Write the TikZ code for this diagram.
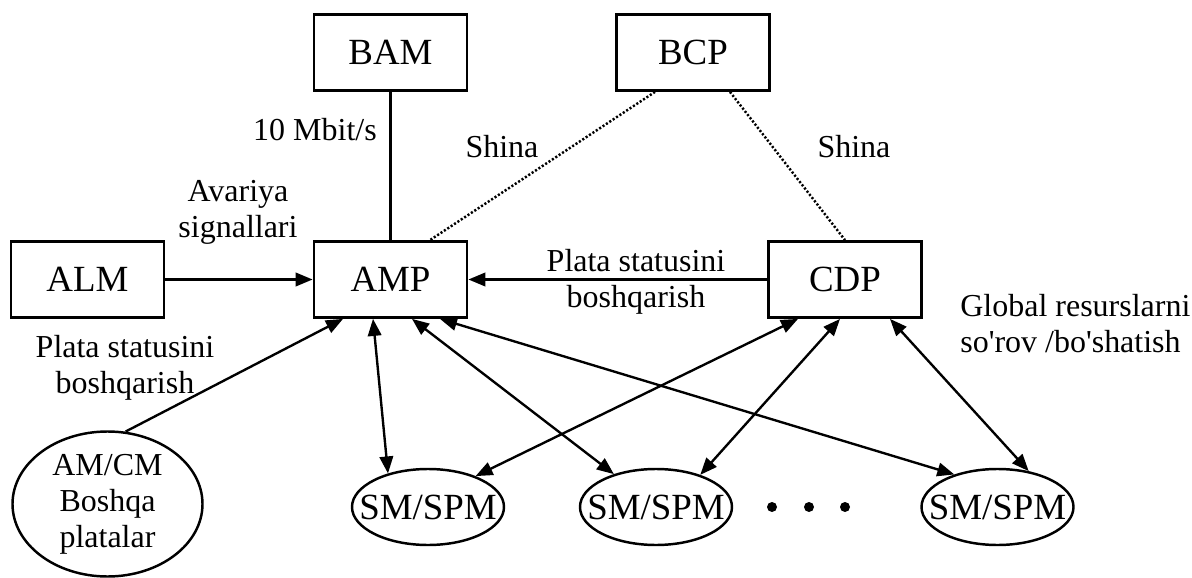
\documentclass[tikz,border=0pt]{standalone}
\usepackage{fontspec}
\setmainfont{Liberation Serif}
\usetikzlibrary{arrows.meta, shapes.geometric}

\begin{document}
\begin{tikzpicture}[
  blok/.style={draw, line width=1.6pt, minimum width=3.06cm, minimum height=1.52cm, inner sep=0pt, font=\fontsize{21}{24}\selectfont},
  plata/.style={draw, ellipse, line width=1.4pt, minimum width=3.04cm, minimum height=1.52cm, inner sep=0pt, font=\fontsize{21}{24}\selectfont},
  yozuv/.style={align=center, inner sep=0pt, font=\fontsize{18.2}{20.5}\selectfont},
  strelka/.style={line width=1.35pt, -{Triangle[length=0.34cm, width=0.27cm]}},
  ikki/.style={line width=1.35pt, {Triangle[length=0.34cm, width=0.27cm]}-{Triangle[length=0.34cm, width=0.27cm]}},
  shina/.style={line width=1.4pt, dash pattern=on 1.2pt off 1.1pt}
]
  \useasboundingbox (0,0) rectangle (23.84,11.54);
  \node[blok] (bam) at (7.81,10.49) {BAM};
  \node[blok] (bcp) at (13.86,10.49) {BCP};
  \node[blok] (alm) at (1.75,5.95) {ALM};
  \node[blok] (amp) at (7.81,5.95) {AMP};
  \node[blok] (cdp) at (16.9,5.95) {CDP};
  \node[draw, ellipse, line width=1.4pt, minimum width=3.8cm, minimum height=2.9cm, yozuv] (amcm) at (2.15,1.46) {AM/CM\\Boshqa\\platalar};
  \node[plata] (sm1) at (8.56,1.40) {\makebox[0pt]{SM/SPM}};
  \node[plata] (sm2) at (13.12,1.40) {\makebox[0pt]{SM/SPM}};
  \node[plata] (sm3) at (19.95,1.40) {\makebox[0pt]{SM/SPM}};
  \foreach \x in {15.44,16.18,16.9}
    \fill (\x,1.40) circle (0.1);

  \draw[line width=1.35pt] (bam) -- (amp);
  \draw[shina] ([xshift=-0.76cm]bcp.south) -- ([xshift=0.79cm]amp.north);
  \draw[shina] ([xshift=0.74cm]bcp.south) -- (cdp.north);
  \draw[strelka] (alm) -- (amp);
  \draw[strelka] (cdp) -- (amp);
  \draw[strelka] (amcm.76) -- ([xshift=-0.95cm]amp.south);
  \draw[ikki] ([xshift=-0.35cm]amp.south) -- (sm1.140);
  \draw[ikki] ([xshift=0.43cm]amp.south) -- (sm2.142);
  \draw[ikki] ([xshift=0.99cm]amp.south) -- (sm3.143);
  \draw[ikki] ([xshift=-0.94cm]cdp.south) -- (sm1.33);
  \draw[ikki] ([xshift=-0.10cm]cdp.south) -- (sm2.36);
  \draw[ikki] ([xshift=0.90cm]cdp.south) -- (sm3.49);

  \node[yozuv] (mbit) at (6.30,8.94) {10 Mbit/s};
  \node[yozuv] (shina1) at (10.04,8.60) {Shina};
  \node[yozuv] (shina2) at (17.08,8.60) {Shina};
  \node[yozuv] (avariya) at (4.76,7.30) {Avariya\\signallari};
  \node[yozuv] (boshq1) at (2.50,4.18) {Plata statusini\\boshqarish};
  \node[yozuv] (boshq2) at (12.72,5.90) {Plata statusini\\boshqarish};
  \node[yozuv, align=left, anchor=west] (global) at (19.2,5.06) {Global resurslarni\\so\textquotesingle rov /bo\textquotesingle shatish};
\end{tikzpicture}
\end{document}
